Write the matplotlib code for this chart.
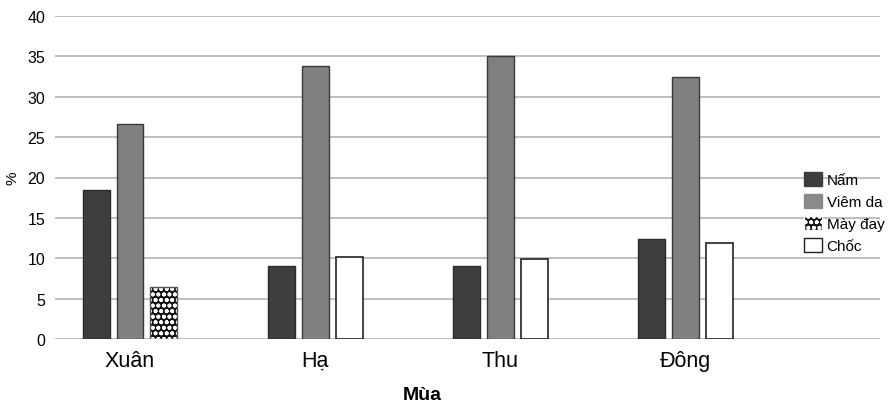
import matplotlib.pyplot as plt
import numpy as np
from matplotlib.patches import Patch

plt.rcParams['font.family'] = ['Liberation Sans', 'DejaVu Sans']

seasons = ['Xuân', 'Hạ', 'Thu', 'Đông']
nam = [18.5, 9.1, 9.1, 12.4]
viem_da = [26.6, 33.8, 35.0, 32.5]
may_day = [6.4, 0, 0, 0]
choc = [0, 10.1, 9.9, 11.9]

x = np.arange(len(seasons))
w = 0.145
step = 0.183

fig = plt.figure(figsize=(8.88, 4.06), dpi=100)
ax = fig.add_axes([55 / 888, 66 / 406, (880 - 55) / 888, (340 - 17) / 406])

ax.set_axisbelow(True)
ax.yaxis.grid(True, color='#b4b4b4', linewidth=1.2)

ax.bar(x - step, nam, w, color='#3e3e3e', edgecolor='#2a2a2a', linewidth=1, label='Nấm')
ax.bar(x, viem_da, w, color='#808083', edgecolor='#3a3a3a', linewidth=1, label='Viêm da')

# Mày đay only in Xuân, Chốc in the other seasons: both share the third slot
plt.rcParams['hatch.linewidth'] = 1.2
ax.bar(x[:1] + step, may_day[:1], w, color='#111111', edgecolor='white', hatch='ooo',
       linewidth=0)
ax.bar(x[:1] + step, may_day[:1], w, fill=False, edgecolor='#555555', linewidth=1)
ax.bar(x[1:] + step, choc[1:], w, color='white', edgecolor='#222222', linewidth=1.2)

handles = [
    Patch(facecolor='#3e3e3e', edgecolor='#3e3e3e', label='Nấm'),
    Patch(facecolor='#8a8a8d', edgecolor='#8a8a8d', label='Viêm da'),
    Patch(facecolor='#111111', edgecolor='white', hatch='ooo', label='Mày đay'),
    Patch(facecolor='white', edgecolor='#222222', label='Chốc'),
]
leg = ax.legend(handles=handles, loc='upper left', bbox_to_anchor=(0.9, 0.535),
                frameon=False, fontsize=11, handlelength=1.2, handleheight=1.0,
                handletextpad=0.3, labelspacing=0.45, borderaxespad=0)

ax.set_ylim(0, 40)
ax.set_yticks(np.arange(0, 41, 5))
ax.set_xlim(-0.405, 4.05)
ax.set_xticks(x)
ax.set_xticklabels(seasons, fontsize=15.5)
ax.tick_params(axis='y', labelsize=11.5, length=0, pad=7)
ax.tick_params(axis='x', length=0, pad=8)
for s in ax.spines.values():
    s.set_visible(False)

ax.set_ylabel('%', fontsize=11, labelpad=6)
fig.text(422 / 888, 1 - 396 / 406, 'Mùa', fontsize=14, fontweight='bold',
         ha='center', va='center')

fig.savefig('out.png', dpi=100)
